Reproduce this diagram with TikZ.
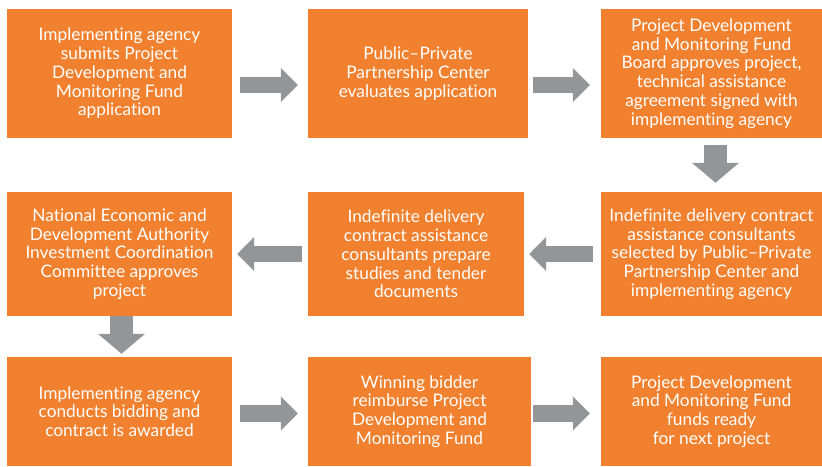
\documentclass[tikz,border=0pt]{standalone}
\usepackage{fontspec}
\setmainfont{Lato}[Ligatures=NoCommon]
\usetikzlibrary{arrows.meta}
\definecolor{boxorange}{HTML}{F1812E}
\definecolor{arrowgray}{HTML}{939598}
\newcommand\boxfont{\fontsize{17.3}{18.7}\selectfont}
\tikzset{
  stepbox/.style={fill=boxorange,text=white,align=center,inner sep=0pt,font=\boxfont},
  flow/.style={draw=arrowgray,line width=16.5pt,-{Triangle[width=33pt,length=17pt]}},
  flowdown/.style={draw=arrowgray,line width=23pt,-{Triangle[width=46pt,length=20pt]}}
}
\begin{document}
\begin{tikzpicture}[x=1pt,y=-1pt]
\useasboundingbox (0,0) rectangle (822,466);
% top row
\node[stepbox,minimum width=225pt,minimum height=129pt] (b1) at (119.5,73.5) {Implementing agency\\submits Project\\Development and\\Monitoring Fund\\application};
\node[stepbox,minimum width=220pt,minimum height=129pt] (b2) at (418,73.5) {Public--Private\\Partnership Center\\evaluates application};
\node[stepbox,minimum width=221pt,minimum height=129pt] (b3) at (711.5,73.5) {Project Development\\and Monitoring Fund\\Board approves project,\\technical assistance\\agreement signed with\\implementing agency};
% middle row
\node[stepbox,minimum width=225pt,minimum height=124pt] (b4) at (119.5,254) {National Economic and\\Development Authority\\Investment Coordination\\Committee approves\\project};
\node[stepbox,minimum width=216pt,minimum height=124pt] (b5) at (416,254) {Indefinite delivery\\contract assistance\\consultants prepare\\studies and tender\\documents};
\node[stepbox,minimum width=221pt,minimum height=124pt] (b6) at (711.5,254) {Indefinite delivery contract\\assistance consultants\\selected by Public--Private\\Partnership Center and\\implementing agency};
% bottom row
\node[stepbox,minimum width=225pt,minimum height=109pt] (b7) at (119.5,411.5) {Implementing agency\\conducts bidding and\\contract is awarded};
\node[stepbox,minimum width=223pt,minimum height=109pt] (b8) at (419.5,411.5) {Winning bidder\\reimburse Project\\Development and\\Monitoring Fund};
\node[stepbox,minimum width=221pt,minimum height=109pt] (b9) at (711.5,411.5) {Project Development\\and Monitoring Fund\\funds ready\\for next project};
% arrows
\draw[flow] ([xshift=8pt,yshift=-11.5pt]b1.east) -- ([xshift=-10pt,yshift=-11.5pt]b2.west);
\draw[flow] ([xshift=5pt,yshift=-11.5pt]b2.east) -- ([xshift=-11pt,yshift=-11.5pt]b3.west);
\draw[flowdown] ([xshift=4pt,yshift=-7pt]b3.south) -- ([xshift=4pt,yshift=9pt]b6.north);
\draw[flow] ([xshift=-8pt]b6.west) -- ([xshift=5pt]b5.east);
\draw[flow] ([xshift=-6pt]b5.west) -- ([xshift=5pt]b4.east);
\draw[flowdown] ([xshift=2pt]b4.south) -- ([xshift=2pt,yshift=3pt]b7.north);
\draw[flow] ([xshift=8pt,yshift=-2pt]b7.east) -- ([xshift=-10pt,yshift=-2pt]b8.west);
\draw[flow] ([xshift=2pt,yshift=-2pt]b8.east) -- ([xshift=-11pt,yshift=-2pt]b9.west);
\end{tikzpicture}
\end{document}
